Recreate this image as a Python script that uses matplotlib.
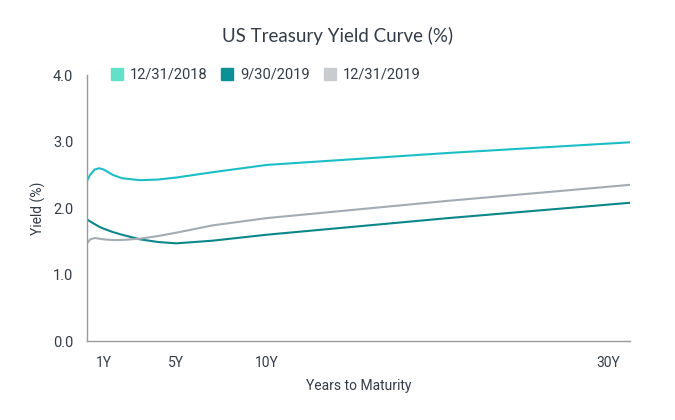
import numpy as np
import matplotlib.pyplot as plt
import matplotlib.transforms as mtransforms

# maturities in years and yields (%)
maturity = [0.083, 0.25, 0.5, 0.75, 1, 1.5, 2, 3, 4, 5, 7, 10, 20, 30]
y_2018 = [2.41, 2.50, 2.58, 2.60, 2.58, 2.50, 2.45, 2.42, 2.43, 2.46, 2.54, 2.65, 2.83, 2.99]
y_sep19 = [1.83, 1.80, 1.76, 1.72, 1.69, 1.64, 1.60, 1.53, 1.49, 1.47, 1.51, 1.60, 1.85, 2.08]
y_dec19 = [1.47, 1.53, 1.55, 1.54, 1.53, 1.52, 1.52, 1.54, 1.58, 1.63, 1.74, 1.85, 2.11, 2.35]

series_labels = ["12/31/2018", "9/30/2019", "12/31/2019"]
line_colors = ["#1bbec6", "#0b878a", "#a3abb3"]
legend_colors = ["#62e0c8", "#0b9195", "#c8ccce"]

xticks = [1, 5, 10, 30]
xticklabels = ["1Y", "5Y", "10Y", "30Y"]
yticks = [0, 1, 2, 3, 4]

text_col = "#333c46"
cond = ["Roboto", "DejaVu Sans"]

fig = plt.figure(figsize=(6.75, 4.2), dpi=100)
ax = fig.add_axes([0.129, 0.188, 0.804, 0.633])

for ys, c, lab in zip([y_2018, y_sep19, y_dec19], line_colors, series_labels):
    ax.plot(maturity, ys, color=c, lw=1.5, solid_capstyle="round")

ax.set_xlim(0.083, 30)
ax.set_ylim(0, 4)
ax.set_xticks(xticks)
ax.set_xticklabels(xticklabels, family=cond, fontsize=10, color=text_col)
ax.set_yticks(yticks)
ax.set_yticklabels([f"{v:.1f}" for v in yticks], family=cond, fontsize=10.5, color=text_col)
ax.tick_params(axis="both", length=0)
ax.tick_params(axis="x", pad=11)
ax.tick_params(axis="y", pad=10)

# nudge the 30Y label inward like the original
lab30 = ax.get_xticklabels()[-1]
lab30.set_transform(lab30.get_transform() + mtransforms.ScaledTranslation(-22 / 100, 0, fig.dpi_scale_trans))

for s in ["top", "right"]:
    ax.spines[s].set_visible(False)
for s in ["left", "bottom"]:
    ax.spines[s].set_color("#9a9a9a")
    ax.spines[s].set_linewidth(1.0)

ax.set_xlabel("Years to Maturity", family=cond, fontsize=10, color=text_col, labelpad=6)
ax.set_ylabel("Yield (%)", family=cond, fontsize=10, color=text_col, labelpad=5)

fig.text(0.5, 0.915, "US Treasury Yield Curve (%)", ha="center", va="center",
         family=["Lato", "DejaVu Sans"], fontsize=13.5, color=text_col)

handles = [plt.Line2D([], [], marker="s", ls="none", markersize=8, color=c) for c in legend_colors]
fig.legend(handles, series_labels, loc="center left", bbox_to_anchor=(0.143, 0.822), ncol=3,
           frameon=False, handletextpad=0.4, columnspacing=0.85, handlelength=1.0,
           prop={"family": cond, "size": 10.5}, labelcolor=text_col)

fig.savefig("out.png", dpi=100)
